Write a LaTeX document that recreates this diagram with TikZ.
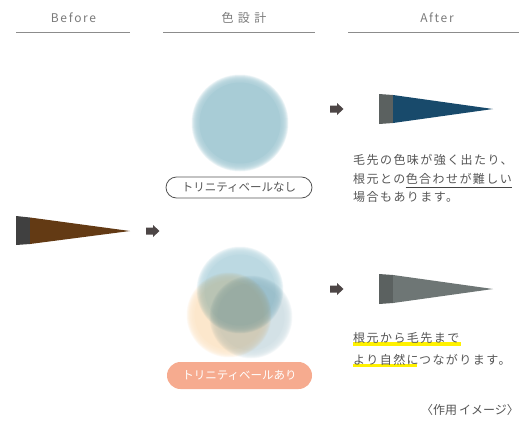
\documentclass[tikz,border=0pt]{standalone}
\usepackage{fontspec}
\setmainfont{Noto Sans CJK JP}
\newfontfamily\jpsp[LetterSpace=12]{Noto Sans CJK JP}
\newfontfamily\jphd[LetterSpace=14]{Noto Sans CJK JP}
\newfontfamily\jpwide[LetterSpace=36]{Noto Sans CJK JP}
\newfontfamily\jpbtn{Noto Sans CJK JP}
\usetikzlibrary{calc}
\pgfdeclarelayer{bg}
\pgfsetlayers{bg,main}
\definecolor{hdrc}{HTML}{7A7A7A}
\definecolor{hlinec}{HTML}{8C8C8C}
\definecolor{txtc}{HTML}{555555}
\definecolor{darkblk}{HTML}{404040}
\definecolor{brownc}{HTML}{633A14}
\definecolor{grayblk}{HTML}{5B6160}
\definecolor{navyc}{HTML}{184A6B}
\definecolor{grayc}{HTML}{6E7675}
\definecolor{arrowc}{HTML}{4D4646}
\definecolor{topcirc}{HTML}{A8CCD6}
\definecolor{bluecirc}{HTML}{BCD9E2}
\definecolor{peachc}{HTML}{FCE7CC}
\definecolor{grayblue}{HTML}{D3E1E6}
\definecolor{hlc}{HTML}{FFF100}
\definecolor{pillc}{HTML}{F6AB8F}
\definecolor{ulc}{HTML}{444444}
\newcommand\softdisc[3]{%
  \fill[#3] #1 circle ({#2-4.5});
  \foreach \k in {-4,-3.5,...,3.5} {\fill[#3, fill opacity=0.15] #1 circle ({#2+\k});}%
}
\tikzset{
  hdr/.style={inner sep=0, text=hdrc, font=\jphd\fontsize{12}{14}\selectfont},
  hdrw/.style={inner sep=0, text=hdrc, font=\jpwide\fontsize{12}{14}\selectfont},
  hline/.style={draw=hlinec, line width=1.2},
  txt/.style={inner sep=0, text=txtc, font=\jpsp\fontsize{12}{14}\selectfont},
  note/.style={inner sep=0, text=txtc, font=\jpbtn\fontsize{12}{14}\selectfont},
  pill/.style={inner sep=0, font=\jpbtn\fontsize{11.5}{13}\selectfont},
  hl/.style={fill=hlc},
  pics/fwd/.style={code={\fill[arrowc] (0,-3.5) -- (7,-3.5) -- (7,-6) -- (13.5,0) -- (7,6) -- (7,3.5) -- (0,3.5) -- cycle;}}
}
\begin{document}
\begin{tikzpicture}[x=1pt,y=-1pt]
\path[use as bounding box] (0,0) rectangle (519,423);
% headers
\node[hdr, anchor=base] (hb) at (73.5,22) {Before};
\node[hdrw, anchor=base] (hm) at (244,22.5) {色設計};
\node[hdr, anchor=base] (ha) at (437,22) {After};
\draw[hline] (16,32.5) -- (130,32.5);
\draw[hline] (163,32.5) -- (315,32.5);
\draw[hline] (348,32.5) -- (519,32.5);
% before brush
\fill[darkblk] (16,216) -- (30,217.5) -- (30,244) -- (16,245) -- cycle;
\fill[brownc] (30,217.5) -- (130,231) -- (30,244) -- cycle;
\pic at (146,231) {fwd};
% top circle
\softdisc{(240,123)}{45}{topcirc}
\node[pill, draw=txtc, line width=0.8, text=txtc, minimum width=146, minimum height=21, rounded corners=10.5] (nashi) at (239,187.5) {トリニティベールなし};
% bottom circles
\begin{scope}[blend mode=multiply]
  \begin{scope}[transparency group]\softdisc{(229,315)}{39}{peachc}\end{scope}
  \begin{scope}[transparency group]\softdisc{(251,317)}{38}{grayblue}\end{scope}
  \begin{scope}[transparency group]\softdisc{(240,290)}{40}{bluecirc}\end{scope}
\end{scope}
\node[pill, fill=pillc, text=white, minimum width=145, minimum height=27, rounded corners=13.5] (ari) at (239.5,375.5) {トリニティベールあり};
% after top
\pic at (330,109) {fwd};
\fill[grayblk] (379,94) -- (393,95) -- (393,123) -- (379,124) -- cycle;
\fill[navyc] (393,95) -- (493,109) -- (393,123) -- cycle;
\node[txt, anchor=base west] (t1) at (353,164.5) {毛先の色味が強く出たり、};
\node[txt, anchor=base west] (t2a) at (353,183) {根元との};
\node[txt, anchor=base west] (t2b) at (t2a.base east) {色合わせが難しい};
\node[txt, anchor=base west] (t3) at (353,201.5) {場合もあります。};
\draw[ulc, line width=0.9] ($(t2b.base west)+(0,4)$) -- ($(t2b.base east)+(0,4)$);
% after bottom
\pic at (330,289) {fwd};
\fill[grayblk] (379,274) -- (393,275) -- (393,303) -- (379,304) -- cycle;
\fill[grayc] (393,275) -- (493,289) -- (393,303) -- cycle;
\node[txt, anchor=base west] (m1) at (353,342.5) {根元から毛先まで};
\node[txt, anchor=base west] (m2a) at (353,364.5) {より自然に};
\node[txt, anchor=base west] (m2b) at (m2a.base east) {つながります。};
\begin{pgfonlayer}{bg}
\fill[hl] ($(m1.base west)+(0,-0.5)$) rectangle ($(m1.base east)+(2,3.5)$);
\fill[hl] ($(m2a.base west)+(0,-1)$) rectangle ($(m2a.base east)+(-2,2.5)$);
\end{pgfonlayer}
\node[note, anchor=base east] (note) at (519,414.5) {〈作用\,イメージ〉};
\end{tikzpicture}
\end{document}
